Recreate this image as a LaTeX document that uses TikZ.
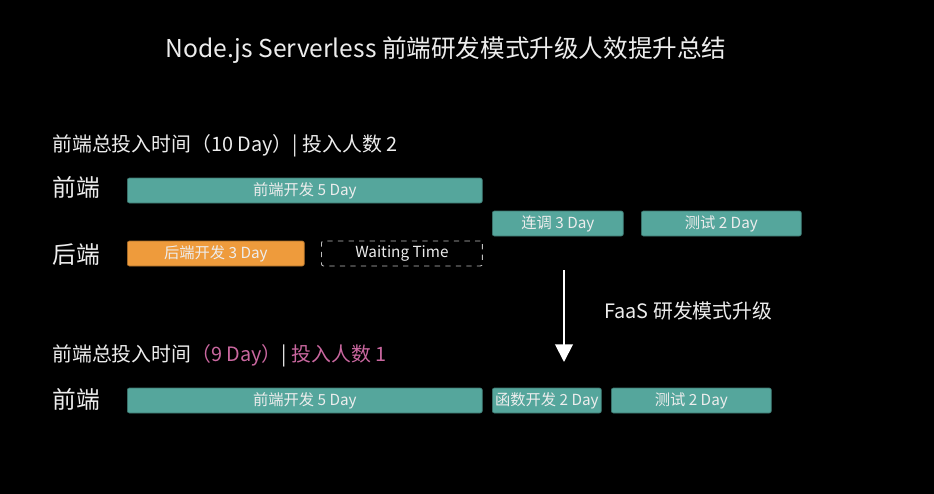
\documentclass[tikz,border=0pt]{standalone}
\usepackage{fontspec}
\setmainfont{Noto Sans CJK SC}
\usepackage{xcolor}
\usetikzlibrary{arrows.meta, positioning}

\definecolor{barteal}{HTML}{55A69C}
\definecolor{barorange}{HTML}{EE9B3C}
\definecolor{pinktext}{HTML}{C9679F}
\definecolor{softwhite}{HTML}{EDEDED}

\begin{document}
\begin{tikzpicture}[
    x=0.02cm, y=-0.02cm,
    bar/.style={rectangle, rounded corners=1.2pt, minimum height=0.5cm, inner sep=0pt,
                anchor=west, font=\fontsize{8.7}{10}\selectfont, text=softwhite},
    devbar/.style={bar, fill=barteal, draw=barteal!70!black, line width=0.4pt},
    backbar/.style={bar, fill=barorange, draw=barorange!70!black, line width=0.4pt},
    waitbar/.style={bar, draw=softwhite!80!black, dashed, line width=0.5pt},
    heading/.style={anchor=west, inner sep=0pt, text=softwhite, font=\fontsize{11.3}{13}\selectfont},
    rowlabel/.style={anchor=west, inner sep=0pt, text=softwhite, font=\fontsize{13.5}{15}\selectfont},
    flow/.style={-{Triangle[width=10pt, length=10pt]}, draw=white, line width=1.1pt}
]
    % background and page size
    \fill[black] (0,0) rectangle (934,494);
    \useasboundingbox (0,0) rectangle (934,494);

    \node[text=softwhite, font=\fontsize{14}{16}\selectfont] (title) at (446,50)
        {Node.js Serverless 前端研发模式升级人效提升总结};

    % Before: front end and back end
    \node[heading] (before) at (52,146) {前端总投入时间（10 Day）| 投入人数 2};

    \node[rowlabel] (fe1) at (52,187) {前端};
    \node[rowlabel] (be1) at (52,255) {后端};

    \node[devbar, minimum width=7.1cm]  (fedev1)  at (127,190.5) {前端开发 5 Day};
    \node[devbar, minimum width=2.62cm] (joint)   at (492,223.5) {连调 3 Day};
    \node[devbar, minimum width=3.2cm]  (test1)   at (641,223.5) {测试 2 Day};
    \node[backbar, minimum width=3.54cm] (bedev)  at (127,253.5) {后端开发 3 Day};
    \node[waitbar, minimum width=3.22cm] (wait)   at (321,253.5) {Waiting Time};

    % Upgrade arrow
    \coordinate (arrtop) at (564,270);
    \coordinate (arrbot) at (564,362);
    \draw[flow] (arrtop) -- (arrbot);
    \node[heading] (faas) at (604,311) {FaaS 研发模式升级};

    % After: front end only
    \node[heading] (after) at (52,356)
        {前端总投入时间\textcolor{pinktext}{（9 Day）}| \textcolor{pinktext}{投入人数 1}};

    \node[rowlabel] (fe2) at (52,399) {前端};

    \node[devbar, minimum width=7.1cm]  (fedev2) at (127,400.5) {前端开发 5 Day};
    \node[devbar, minimum width=2.18cm] (fndev)  at (492,400.5) {函数开发 2 Day};
    \node[devbar, minimum width=3.2cm]  (test2)  at (611,400.5) {测试 2 Day};

\end{tikzpicture}
\end{document}
